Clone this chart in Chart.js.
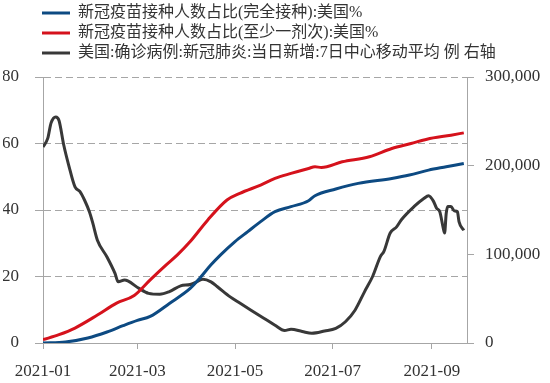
<!DOCTYPE html>
<html>
<head>
<meta charset="utf-8">
<script src="https://cdn.jsdelivr.net/npm/chart.js@4"></script>
<style>
  html, body { margin: 0; padding: 0; background: #fff; }
  #wrap { width: 550px; height: 383px; }
</style>
</head>
<body>
<div id="wrap"><canvas id="c" width="550" height="383"></canvas></div>
<script>
// ---- data (x = days since 2021-01-01) ----
const seriesNames = [
  '新冠疫苗接种人数占比(完全接种):美国%',
  '新冠疫苗接种人数占比(至少一剂次):美国%',
  '美国:确诊病例:新冠肺炎:当日新增:7日中心移动平均 例 右轴'
];
const xTickDays = [0, 59, 120, 181, 243];
const xTickLabels = ['2021-01', '2021-03', '2021-05', '2021-07', '2021-09'];

const fullDays = [0, 14, 28, 40, 50, 59, 67, 79, 92, 98, 105, 111, 120, 128, 136, 145, 155, 166, 170, 183, 197, 218, 229, 241, 252, 263];
const fullVals = [0, 0.3, 1.5, 3.3, 5.2, 6.8, 8.0, 11.9, 16.4, 19.5, 23.5, 26.5, 30.5, 33.5, 36.5, 39.5, 41.0, 42.8, 44.3, 46.3, 48.0, 49.5, 50.5, 52.0, 53.0, 54.0];

const oneDays = [0, 10, 20, 34, 46, 57, 67, 77, 84, 92, 103, 115, 123, 136, 145, 155, 166, 170, 174, 187, 204, 218, 230, 240, 255, 263];
const oneVals = [1.0, 2.5, 4.5, 8.4, 12.0, 14.3, 19.0, 23.5, 26.5, 30.5, 37.0, 43.0, 45.0, 47.5, 49.5, 51.0, 52.5, 53.0, 52.8, 54.5, 56.0, 58.5, 60.0, 61.3, 62.5, 63.2];

const caseDays = [0, 3, 5, 8, 10, 13, 16, 20, 23, 26, 29, 31, 34, 40, 45, 47, 51, 53, 60, 66, 73, 79, 86, 92, 96, 100, 105, 109, 117, 123, 130, 138, 145, 151, 155, 162, 168, 176, 183, 189, 195, 201, 206, 211, 213, 217, 221, 224, 232, 238, 241, 244, 246, 248, 250, 251, 252, 253, 255, 257, 259, 260, 263];
const caseVals = [221000, 231000, 248000, 255000, 251000, 223000, 201000, 176000, 171000, 161000, 148000, 136000, 116000, 97000, 78500, 69000, 71000, 70000, 61600, 56000, 55000, 58000, 64500, 66000, 69000, 72000, 69000, 63500, 52000, 45000, 37000, 28000, 20000, 14000, 15500, 13000, 11000, 13500, 16500, 24000, 37000, 58000, 75000, 98000, 103000, 124000, 131000, 139000, 154000, 163000, 166000, 160000, 152000, 148000, 131000, 124000, 146000, 154000, 154000, 149000, 148000, 137000, 127000];

const toPts = (xs, ys) => xs.map((x, i) => ({ x: x, y: ys[i] }));

const tickFont = { family: "'Liberation Serif', 'Noto Sans CJK SC', serif", size: 17 };
const gridColor = '#a6a6a6';

const legendTweak = {
  id: 'legendTweak',
  beforeInit(chart) {
    const origFit = chart.legend.fit;
    chart.legend.fit = function () {
      origFit.bind(chart.legend)();
      this.height += 6;
    };
  },
  afterLayout(chart) {
    chart.legend.left = 38;
  }
};

new Chart(document.getElementById('c'), {
  type: 'line',
  data: {
    datasets: [
      { label: seriesNames[0], data: toPts(fullDays, fullVals), yAxisID: 'y',
        borderColor: '#0d4a82', backgroundColor: '#0d4a82', borderWidth: 3, pointRadius: 0, cubicInterpolationMode: 'monotone' },
      { label: seriesNames[1], data: toPts(oneDays, oneVals), yAxisID: 'y',
        borderColor: '#d5121c', backgroundColor: '#d5121c', borderWidth: 3, pointRadius: 0, cubicInterpolationMode: 'monotone' },
      { label: seriesNames[2], data: toPts(caseDays, caseVals), yAxisID: 'y2',
        borderColor: '#383838', backgroundColor: '#383838', borderWidth: 3, pointRadius: 0, cubicInterpolationMode: 'monotone' }
    ]
  },
  options: {
    responsive: false,
    animation: false,
    devicePixelRatio: 1,
    layout: { padding: { left: 3, right: 0, top: 1, bottom: 2 } },
    plugins: {
      tooltip: { enabled: false },
      legend: {
        position: 'top',
        align: 'start',
        labels: {
          boxWidth: 28,
          boxHeight: 3,
          padding: 4,
          color: '#333',
          font: { family: "'Liberation Serif', 'Noto Sans CJK SC', serif", size: 16 },
          generateLabels(chart) {
            const items = Chart.defaults.plugins.legend.labels.generateLabels(chart);
            items.forEach(it => { it.lineWidth = 0; it.fillStyle = it.strokeStyle; });
            return items;
          }
        }
      }
    },
    scales: {
      x: {
        type: 'linear',
        min: 0,
        max: 265,
        afterBuildTicks(scale) { scale.ticks = xTickDays.map(v => ({ value: v })); },
        afterFit(scale) { scale.height = 38; },
        ticks: {
          color: '#333',
          font: tickFont,
          padding: 12,
          maxRotation: 0,
          autoSkip: false,
          callback(v) { const i = xTickDays.indexOf(v); return i >= 0 ? xTickLabels[i] : ''; }
        },
        grid: { drawOnChartArea: false, drawTicks: true, tickLength: 6, color: gridColor },
        border: { display: true, color: gridColor }
      },
      y: {
        position: 'left',
        min: 0,
        max: 80,
        afterFit(scale) { scale.width = 40; },
        ticks: { stepSize: 20, color: '#333', font: tickFont, padding: 16 },
        grid: { color: gridColor, tickLength: 8 },
        border: { display: true, color: gridColor, dash: [7, 4] }
      },
      y2: {
        position: 'right',
        min: 0,
        max: 300000,
        afterFit(scale) { scale.width = 83; },
        ticks: {
          stepSize: 100000, color: '#333', font: tickFont, padding: 11,
          callback(v) { return v.toLocaleString('en-US'); }
        },
        grid: { drawOnChartArea: false, tickLength: 7, color: gridColor },
        border: { display: true, color: gridColor }
      }
    }
  },
  plugins: [legendTweak]
});
</script>
</body>
</html>
